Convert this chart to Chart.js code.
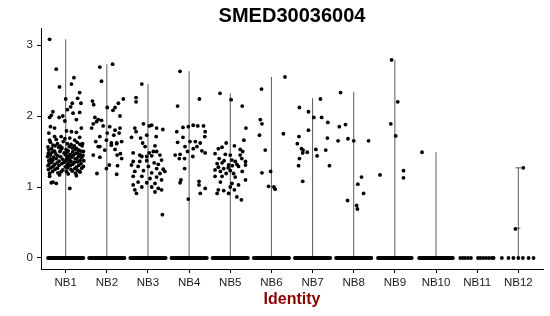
<!DOCTYPE html>
<html>
<head>
<meta charset="utf-8">
<script src="https://cdn.jsdelivr.net/npm/chart.js@4/dist/chart.umd.min.js"></script>
<style>
  body { margin: 0; background: #fff; }
</style>
</head>
<body>
<canvas id="vln" width="550" height="316"></canvas>
<script>
// categories and tick labels
const categories = ['NB1', 'NB2', 'NB3', 'NB4', 'NB5', 'NB6', 'NB7', 'NB8', 'NB9', 'NB10', 'NB11', 'NB12'];
const yTicks = [0, 1, 2, 3];
const chartTitle = 'SMED30036004';

// violin tops (the violins collapse to a thin line)
const violinMax = [3.08, 2.73, 2.45, 2.63, 2.32, 2.55, 2.25, 2.34, 2.79, 1.49, null, 1.27];
// half width of the pile of zero-valued cells
const zeroHalfWidth = [0.43, 0.43, 0.43, 0.43, 0.43, 0.43, 0.43, 0.43, 0.41, 0.41, null, null];
const nb11Zero = [-0.41, -0.35, -0.29, -0.22, -0.15, 0.02, 0.08, 0.15, 0.22, 0.29, 0.36, 0.4];
const nb12Zero = [-0.4, -0.24, -0.12, 0, 0.11, 0.25, 0.37];

// expressing cells: [jitter, value]
const nb1 = [
  [-0.39,3.08],[-0.23,2.66],[-0.15,2.41],[0.2,2.54],[0.14,2.45],[0.34,2.33],[0.29,2.25],[0,2.24],
  [0.16,2.18],[0.37,2.18],[0.04,2.09],[0.12,2.13],[-0.31,2.06],[-0.35,2.01],[-0.39,1.98],[-0.16,1.98],
  [-0.07,2.0],[0.18,2.04],[0.34,2.05],[-0.02,1.93],[0.26,1.95],[-0.37,1.85],[-0.27,1.83],[0.38,1.83],
  [-0.41,1.76],[0.02,1.79],[0.14,1.78],[0.26,1.77],[-0.27,1.71],[-0.11,1.71],[0.34,1.70],[-0.39,1.66],
  [-0.23,1.67],[-0.02,1.68],[0.1,1.69],[0.22,1.66],
  [-0.37,1.63],[-0.2,1.61],[-0.06,1.64],[0.13,1.60],[0.28,1.63],[0.41,1.61],
  [-0.31,1.59],[-0.13,1.575],[0.04,1.61],[0.21,1.58],[0.35,1.6],
  [-0.43,1.565],[-0.26,1.58],[-0.09,1.55],[0.09,1.57],[0.26,1.545],[0.4,1.58],
  [-0.34,1.54],[-0.17,1.56],[0.01,1.53],[0.16,1.55],[0.32,1.52],
  [-0.41,1.52],[-0.27,1.505],[-0.11,1.535],[0.06,1.51],[0.23,1.53],[0.37,1.505],
  [-0.33,1.49],[-0.14,1.5],[0.03,1.485],[0.17,1.495],[0.29,1.48],[0.43,1.5],
  [-0.42,1.475],[-0.24,1.465],[-0.04,1.48],[0.11,1.46],[0.25,1.475],[0.35,1.455],
  [-0.37,1.45],[-0.19,1.44],[-0.01,1.455],[0.07,1.435],[0.19,1.45],[0.31,1.43],[0.42,1.445],
  [-0.44,1.43],[-0.29,1.42],[-0.12,1.425],[0.03,1.41],[0.15,1.42],[0.27,1.4],[0.39,1.415],
  [-0.37,1.395],[-0.23,1.4],[-0.07,1.39],[0.09,1.385],[0.23,1.395],[0.35,1.375],
  [-0.41,1.37],[-0.31,1.38],[-0.16,1.365],[0.01,1.37],[0.13,1.36],[0.29,1.355],[0.44,1.37],
  [-0.34,1.35],[-0.21,1.34],[-0.04,1.35],[0.07,1.335],[0.21,1.345],[0.37,1.33],
  [-0.4,1.325],[-0.27,1.315],[-0.09,1.33],[0.04,1.31],[0.17,1.32],[0.32,1.305],
  [-0.43,1.3],[-0.31,1.29],[-0.16,1.305],[-0.01,1.285],[0.11,1.3],[0.26,1.28],[0.43,1.29],
  [-0.36,1.27],[-0.2,1.265],[0.05,1.27],[0.22,1.26],[0.39,1.265],
  [-0.42,1.245],[-0.26,1.25],[-0.07,1.24],[0.13,1.245],[0.29,1.235],
  [-0.32,1.22],[-0.11,1.215],[0.16,1.225],[0.35,1.21],
  [-0.39,1.19],[-0.19,1.2],[0.06,1.185],[0.24,1.195],
  [-0.31,1.07],[-0.23,1.05],[-0.35,1.06],[0.1,0.98],[-0.15,1.17],[0.02,1.22],[0.26,1.16],[0.34,1.22],[-0.39,1.15]
];
const nb2 = [
  [-0.17,2.69],[0.14,2.73],[-0.13,2.49],[-0.35,2.21],[-0.32,2.16],[0.4,2.24],[0.28,2.18],[0.2,2.12],
  [0.01,2.12],[0.15,2.08],[0.32,2.0],[-0.29,1.98],[-0.21,1.95],[-0.25,1.92],[-0.13,1.94],[-0.33,1.89],
  [-0.37,1.83],[-0.09,1.86],[0.07,1.85],[0.2,1.80],[0.32,1.83],[0.01,1.76],[0.17,1.73],[0.3,1.76],
  [-0.17,1.71],[-0.27,1.64],[-0.01,1.66],[0.11,1.62],[0.24,1.62],[0.36,1.64],[-0.17,1.57],[-0.05,1.52],
  [0.2,1.53],[0.33,1.47],[-0.33,1.45],[-0.21,1.57],[-0.17,1.42],[0.25,1.45],[0.36,1.40],[0.06,1.31],
  [0.26,1.30],[-0.24,1.19],[-0.01,1.26],[0.24,1.18],[0.11,1.59],[0.24,1.61]
];
const nb3 = [
  [-0.15,2.45],[-0.29,2.26],[-0.29,2.20],[0.09,1.87],[0.03,1.86],[-0.32,1.83],[-0.29,1.78],[-0.11,1.89],
  [0.21,1.83],[0.36,1.81],[-0.4,1.70],[-0.18,1.69],[-0.03,1.73],[0.2,1.71],[-0.13,1.62],[-0.07,1.57],
  [0.03,1.48],[0.13,1.50],[0.21,1.50],[-0.36,1.48],[-0.2,1.45],[-0.03,1.43],[0.29,1.45],
  [0.17,1.58],[-0.15,1.43],[0.09,1.44],
  [0.33,1.38],[-0.36,1.36],[-0.2,1.36],[-0.03,1.37],[0.15,1.34],[0.25,1.32],[-0.4,1.31],[-0.24,1.29],
  [0.01,1.29],[0.21,1.26],[0.37,1.25],[-0.32,1.22],[-0.11,1.23],[0.09,1.20],[0.29,1.19],[0.41,1.22],
  [-0.36,1.15],[-0.15,1.15],[0.05,1.12],[0.21,1.14],[-0.24,1.07],[-0.03,1.06],[0.17,1.05],[0.33,1.10],
  [-0.36,1.03],[-0.15,1.0],[0.09,1.0],[0.25,0.98],[0.33,0.96],[-0.32,0.96],[-0.28,0.91],[0.17,0.93],
  [0.35,0.61]
];
const nb4 = [
  [-0.22,2.63],[-0.28,2.14],[0.25,2.24],[-0.15,1.84],[-0.3,1.78],[-0.02,1.85],[0.1,1.87],[0.21,1.86],
  [0.35,1.86],[0.39,1.78],[0.38,1.71],[-0.28,1.63],[-0.15,1.70],[-0.1,1.57],[0.02,1.64],[0.19,1.57],
  [0.31,1.51],[0.39,1.48],[-0.34,1.45],[-0.22,1.46],[-0.11,1.40],[0.09,1.43],[-0.04,1.50],
  [0.15,1.64],[0.27,1.62],[0.1,1.54],[-0.24,1.40],[-0.11,1.26],[-0.2,1.10],[-0.22,1.06],[0.24,1.08],
  [0.24,1.03],[0.39,0.98],[0.27,0.91],[-0.02,0.83]
];
const nb5 = [
  [-0.25,2.32],[0.02,2.23],[0.29,2.14],[0.38,1.83],[0.33,1.66],[-0.1,1.62],[0.1,1.58],[-0.2,1.56],
  [-0.29,1.54],[0.24,1.53],[-0.37,1.47],[-0.12,1.46],[0,1.45],[0.24,1.45],[0.3,1.5],[-0.27,1.40],
  [0.28,1.4],[0.04,1.38],[-0.15,1.37],[0.12,1.36],[0.37,1.36],[-0.32,1.33],[-0.2,1.34],[-0.04,1.31],
  [0.16,1.32],[0.2,1.29],[0.37,1.31],[0.05,1.3],[-0.29,1.28],[-0.16,1.26],[-0.05,1.27],[-0.37,1.24],
  [0,1.23],[-0.24,1.22],[-0.1,1.19],[0.08,1.19],[0.29,1.22],[-0.37,1.15],[-0.2,1.15],[0.12,1.14],
  [-0.24,1.07],[0.37,1.10],[0.04,1.05],[0.2,1.03],[0,1.0],[-0.29,0.96],[-0.16,0.95],[-0.32,0.91],
  [0.1,0.96],[-0.04,0.91],[0.16,0.86],[0.27,0.82]
];
const nb6 = [
  [-0.24,2.38],[0.33,2.55],[-0.27,1.95],[-0.23,1.89],[-0.29,1.73],[0.29,1.75],[-0.15,1.52],[-0.23,1.20],
  [-0.02,1.22],[-0.07,1.01],[0.06,1.0],[0.09,0.97]
];
const nb7 = [
  [0.19,2.24],[-0.32,2.12],[-0.1,2.06],[0.03,1.98],[0.22,1.98],[0.37,1.91],[-0.1,1.80],[-0.33,1.71],
  [0.36,1.69],[-0.37,1.61],[-0.27,1.54],[-0.23,1.52],[-0.24,1.48],[-0.13,1.49],[0.08,1.53],[0.32,1.52],
  [0.11,1.44],[-0.32,1.40],[-0.34,1.30],[0.41,1.30],[-0.24,1.08]
];
const nb8 = [
  [-0.32,2.33],[-0.35,1.85],[-0.2,1.88],[-0.38,1.65],[-0.14,1.68],[0,1.65],[0.36,1.65],[0.19,1.14],
  [0.1,1.04],[0.24,0.91],[-0.15,0.81],[0.07,0.74],[0.09,0.69]
];
const nb9 = [
  [-0.08,2.79],[0.07,2.20],[-0.1,1.89],[0.02,1.72],[-0.36,1.17],[0.21,1.23],[0.21,1.13]
];
const nb10 = [[-0.34,1.49]];
const nb11 = [];
const nb12 = [[0.12,1.27],[-0.07,0.41]];
const pointSets = [nb1, nb2, nb3, nb4, nb5, nb6, nb7, nb8, nb9, nb10, nb11, nb12];
const zeroDots = { 11: nb11Zero, 12: nb12Zero };
// small horizontal caps of the NB12 violin: [category, value, half width]
const violinCaps = [[12, 1.27, 0.07], [12, 0.42, 0.05]];

const FONT = '"Liberation Sans", Arial, Helvetica, sans-serif';

// build the marks from the arrays
const violinData = [];
violinMax.forEach((m, i) => {
  if (m === null) return;
  violinData.push({x: i + 1, y: 0}, {x: i + 1, y: m}, {x: i + 1, y: null});
});
violinCaps.forEach(c => {
  violinData.push({x: c[0] - c[2], y: c[1]}, {x: c[0] + c[2], y: c[1]}, {x: c[0], y: null});
});

const zeroBand = [];
zeroHalfWidth.forEach((w, i) => {
  if (w === null) return;
  zeroBand.push({x: i + 1 - w, y: 0}, {x: i + 1 + w, y: 0}, {x: i + 1, y: null});
});

const cells = [];
pointSets.forEach((pts, i) => {
  pts.forEach(p => cells.push({x: i + 1 + p[0], y: p[1]}));
});
Object.keys(zeroDots).forEach(k => {
  zeroDots[k].forEach(dx => cells.push({x: Number(k) + dx, y: 0}));
});

// ggplot centres the title over the panel, not the whole canvas
const panelTitle = {
  id: 'panelTitle',
  afterDraw(chart) {
    const {ctx, chartArea} = chart;
    ctx.save();
    ctx.fillStyle = '#000';
    ctx.font = 'bold 20px ' + FONT;
    ctx.textAlign = 'center';
    ctx.textBaseline = 'middle';
    ctx.fillText(chartTitle, (chartArea.left + chartArea.right) / 2, 16);
    ctx.restore();
  }
};

new Chart(document.getElementById('vln'), {
  type: 'scatter',
  data: {
    datasets: [{
      data: cells,
      backgroundColor: '#000',
      pointRadius: 1.9,
      pointBorderWidth: 0,
      order: 0
    }, {
      type: 'line',
      data: zeroBand,
      borderColor: '#000',
      borderWidth: 3.8,
      borderCapStyle: 'round',
      pointRadius: 0,
      spanGaps: false,
      order: 1
    }, {
      type: 'line',
      data: violinData,
      borderColor: '#5a5a5a',
      borderWidth: 1,
      pointRadius: 0,
      spanGaps: false,
      order: 2
    }]
  },
  plugins: [panelTitle],
  options: {
    responsive: false,
    animation: false,
    devicePixelRatio: 1,
    events: [],
    layout: { padding: { left: 0, right: 7, top: 28, bottom: 0 } },
    plugins: {
      legend: { display: false },
      tooltip: { enabled: false },
      title: { display: false }
    },
    scales: {
      x: {
        type: 'linear',
        min: 0.4,
        max: 12.6,
        afterBuildTicks: s => { s.ticks = categories.map((c, i) => ({value: i + 1})); },
        afterFit: s => { s.height = 47; },
        ticks: {
          callback: v => categories[v - 1],
          color: '#1a1a1a',
          font: { family: FONT, size: 11.5 },
          padding: 3,
          maxRotation: 0,
          autoSkip: false
        },
        grid: { display: true, drawOnChartArea: false, drawTicks: true, tickLength: 4, color: '#000' },
        border: { display: true, color: '#000', width: 1 },
        title: {
          display: true,
          text: 'Identity',
          color: '#8b0000',
          font: { family: FONT, size: 16, weight: 'bold' },
          padding: { top: 0, bottom: 7 }
        }
      },
      y: {
        min: -0.155,
        max: 3.24,
        afterBuildTicks: s => { s.ticks = yTicks.map(v => ({value: v})); },
        afterFit: s => { s.width = 41; },
        ticks: {
          color: '#1a1a1a',
          font: { family: FONT, size: 11.5 },
          padding: 4
        },
        grid: { display: true, drawOnChartArea: false, drawTicks: true, tickLength: 4, color: '#000' },
        border: { display: true, color: '#000', width: 1 }
      }
    }
  }
});
</script>
</body>
</html>
